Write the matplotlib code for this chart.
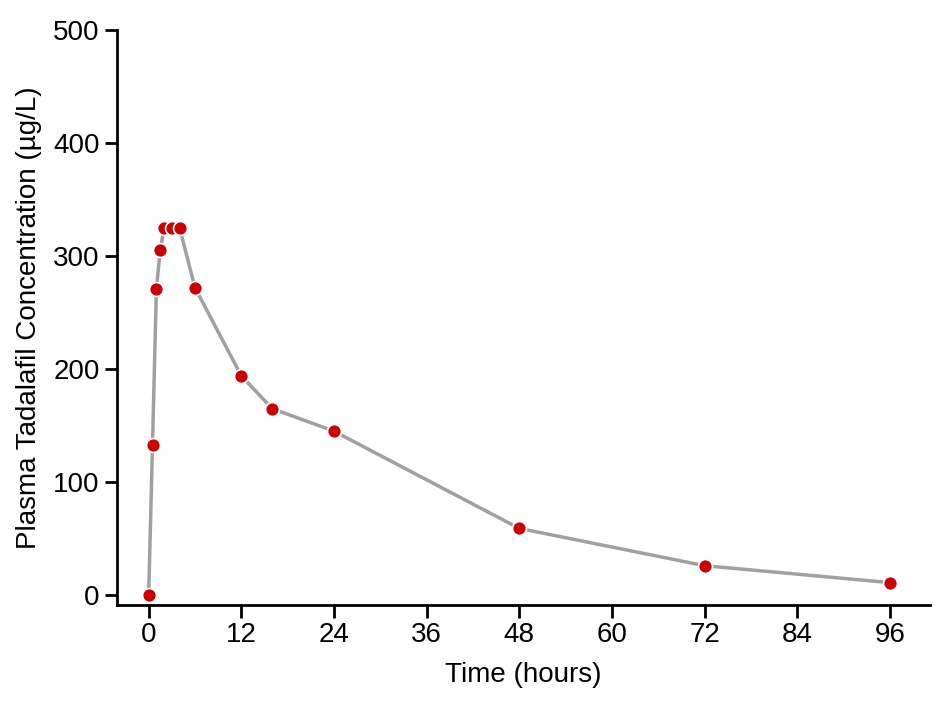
import matplotlib
matplotlib.use("Agg")
import matplotlib.pyplot as plt

time_h = [0, 0.5, 1, 1.5, 2, 3, 4, 6, 12, 16, 24, 48, 72, 96]
conc = [0, 133, 271, 305, 325, 325, 325, 272, 194, 165, 145, 59, 26, 11]
xticks = [0, 12, 24, 36, 48, 60, 72, 84, 96]
yticks = [0, 100, 200, 300, 400, 500]

plt.rcParams["font.family"] = "Liberation Sans"
fig = plt.figure(figsize=(9.48, 7.07), dpi=100)
ax = fig.add_axes([117/948, 1-605/707, (930-117)/948, (605-30)/707])
ax.plot(time_h, conc, color="#a0a0a0", lw=2.5, zorder=1)
ax.scatter(time_h, conc, s=100, color="#cc0000", edgecolor="white", linewidth=1.2, zorder=2)
ax.set_xlim(-4.1, 101.2)
ax.set_ylim(-8.8, 500)
ax.set_xticks(xticks)
ax.set_yticks(yticks)
for s in ["top", "right"]:
    ax.spines[s].set_visible(False)
for s in ["left", "bottom"]:
    ax.spines[s].set_linewidth(2)
ax.tick_params(width=2, length=9, labelsize=20)
ax.set_xlabel("Time (hours)", fontsize=20, labelpad=10)
ax.set_ylabel("Plasma Tadalafil Concentration (µg/L)", fontsize=20, labelpad=8)
fig.savefig("out.png", dpi=100)
